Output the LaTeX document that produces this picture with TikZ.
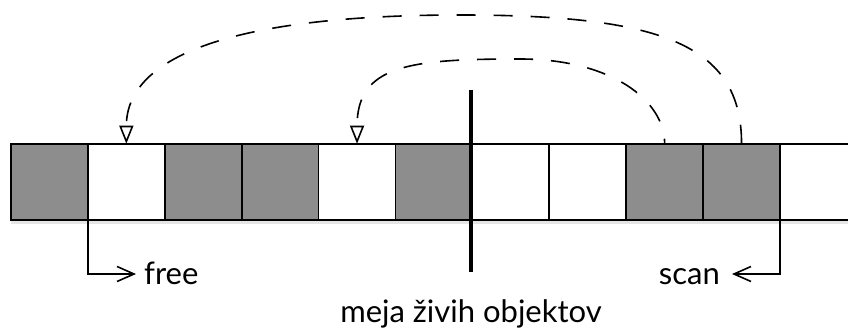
\documentclass[tikz,border=0pt]{standalone}
\usepackage{fontspec}
\setmainfont{Lato}
\usetikzlibrary{arrows.meta}
\definecolor{livegray}{RGB}{141,141,141}
\begin{document}
\begin{tikzpicture}[x=1pt,y=-1pt,
  cell/.style={draw=black, line width=1.7pt, fill=white,
    minimum width=76.9pt, minimum height=76.6pt, inner sep=0pt, outer sep=0pt},
  live/.style={cell, fill=livegray},
  link/.style={line width=1.6pt, dash pattern=on 19pt off 18pt,
    -{Triangle[open, length=18pt, width=14pt, line width=1.6pt]}},
  pointer/.style={line width=1.6pt,
    -{Straight Barb[length=17pt, width=15pt, line width=1.6pt]}},
  caption/.style={font=\fontsize{31}{37}\selectfont, inner sep=0pt}
]
\useasboundingbox (0,0) rectangle (848,328);

% soft shadow under the heap
\fill[black, opacity=0.10] (11,220) rectangle (860,224);

% heap cells (grey = live object)
\foreach \i/\kind in {1/live,2/cell,3/live,4/live,5/cell,6/live,
                      7/cell,8/cell,9/live,10/live,11/cell}
  \node[\kind] (c\i) at ({11+76.9*(\i-0.5)},182) {};

% boundary of live objects
\coordinate (wallTop) at (471,90);
\coordinate (wallBot) at (471,272);
\draw[line width=3.4pt] (wallTop) -- (wallBot);

% forwarding links
\coordinate (outerTop) at (460,15);
\coordinate (innerTop) at (520,59);
\draw[link] (c10.north) .. controls +(0,-100) and (660,15) .. (outerTop)
  .. controls (240,15) and +(0,-90) .. (c2.north);
\draw[link, dash phase=14pt] (c9.north) .. controls +(0,-44) and (610,59) .. (innerTop)
  .. controls (410,59) and +(0,-79) .. (c5.north);

% labels
\node[caption, anchor=base west] (free) at (144,285) {free};
\node[caption, anchor=base east] (scan) at (720,285) {scan};
\node[caption, anchor=base] (wall) at (471,323) {meja živih objektov};

% free / scan pointers
\coordinate (freeEnd) at (136,274);
\coordinate (scanEnd) at (732,274);
\draw[pointer] (c2.south west) |- (freeEnd);
\draw[pointer] (c10.south east) |- (scanEnd);
\end{tikzpicture}
\end{document}
